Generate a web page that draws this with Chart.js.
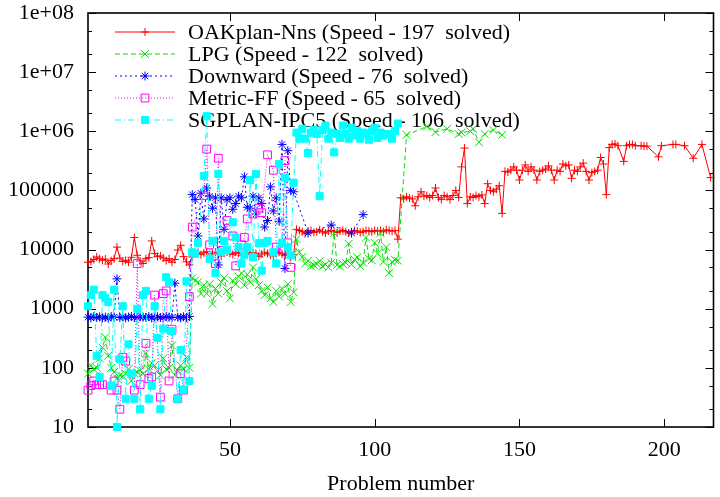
<!DOCTYPE html>
<html>
<head>
<meta charset="utf-8">
<script src="https://cdn.jsdelivr.net/npm/chart.js@4/dist/chart.umd.min.js"></script>
<style>
  html, body { margin: 0; padding: 0; background: #ffffff; }
  canvas { display: block; }
</style>
</head>
<body>
<canvas id="chart" width="720" height="497"></canvas>
<script>
// Unsolved problems are null.
const _ = null;

const seriesLabels = [
  'OAKplan-Nns (Speed - 197  solved)',
  'LPG (Speed - 122  solved)',
  'Downward (Speed - 76  solved)',
  'Metric-FF (Speed - 65  solved)',
  'SGPLAN-IPC5 (Speed - 106  solved)'
];

// Run time per problem, problems numbered from 1.
const oakplanTimes = [
  6100, 6300, 6800, 7500, 7000, 6600, 6900, 5700, 6500, 7000, 11000, 7200,
  6300, 6600, 6100, 7400, 16000, 8000, 6400, 5800, 7000, 7300, 14000, 8600,
  7600, 7800, 7200, 6500, 7000, 6100, 6800, 9800, 11800, 7600, 6200, 5500,
  7500, 8500, 9000, 8200, 8800, 9200, 8000, 8600, 9000, 8400, 7800, 8800,
  9100, 8600, 8300, 9000, 8700, 7900, 8500, 9000, 8200, 8800, 8600, 7700,
  8400, 9000, 8600, 8100, 7800, 8700, 9000, 8400, 8000, 8600, 7400, 8200,
  22000, 21000, 20000, 18500, 20500, 21000, 19500, 20000, 21500, 20000, 19000, 20500,
  21000, 20000, 19500, 20500, 21000, 20000, 19000, 20000, 21000, 20500, 19500, 20000,
  21000, 20500, 20000, 21000, 20500, 21000, 20000, 21500, 21000, 20500, 21000, 15000,
  75000, 72000, 78000, 74000, 72000, 55000, 78000, 95000, 80000, 82000, 76000, 82000,
  110000, 76000, 70000, 82000, 78000, 70000, 82000, 100000, 76000, 250000, 520000, 60000,
  78000, 76000, 82000, 78000, 84000, 60000, 130000, 100000, 95000, 105000, 120000, 41000,
  210000, 205000, 220000, 250000, 220000, 150000, 220000, 270000, 210000, 250000, 220000, 150000,
  210000, 220000, 230000, 260000, 220000, 150000, 220000, 210000, 280000, 260000, 270000, 160000,
  220000, 210000, 250000, 290000, 210000, 150000, 200000, 210000, 220000, 360000, 280000, 85000,
  530000, 600000, 610000, 570000, _, 310000, 570000, 600000, 600000, 570000, _, 570000,
  560000, 560000, _, _, _, 370000, 570000, _, _, _, 600000, 600000,
  _, _, 570000, _, _, 350000, _, _, 600000, _, _, 165000
];

const lpgTimes = [
  80, 110, 95, 100, 145, 220, 330, 160, 100, 85, 66, 75,
  72, 80, 95, 60, 80, 85, 90, 80, 175, 95, 120, 110,
  90, 75, 145, 95, 100, 240, 75, 90, 110, 95, 150, 100,
  3300, 3000, 2800, 1800, 2500, 1800, 2600, 1200, 2200, 1800, 2800, 3300,
  2000, 1500, 3000, 2600, 3500, 4000, 2500, 3800, 2800, 5000, 3200, 2500,
  2000, 1700, 2300, 1500, 1300, 2000, 1600, 2200, 1800, 2600, 1300, 1900,
  15000, 9000, 7500, 5800, 6500, 5200, 5500, 5700, 6400, 5200, 5600, 5000,
  6000, 19000, 5500, 5200, 5700, 6000, 12500, 5600, 6800, 7400, 5200, 6000,
  16000, 7000, 6600, 13000, 8500, 19000, 6200, 11000, 4000, 6200, 6700, 6500,
  _, _, 870000, _, _, _, _, _, _, 1200000, _, _,
  970000, _, _, _, 1100000, _, _, _, 900000, 950000, _, _,
  1000000, 1100000, _, 650000, _, 900000, _, _, 1050000, _, _, 870000
];

const downwardTimes = [
  720, 700, 740, 710, 730, 700, 720, 690, 740, 720, 3200, 710,
  730, 700, 720, 740, 710, 700, 730, 720, 710, 740, 700, 720,
  730, 710, 700, 740, 720, 710, 2700, 720, 700, 730, 710, 740,
  85000, 70000, 17000, 90000, 33000, 110000, 80000, 50000, 75000, 5500, 75000, 22000,
  70000, 75000, 48000, 60000, 80000, 75000, 170000, 52000, 50000, 80000, 40000, 75000,
  60000, 24000, 31000, 115000, 45000, 75000, 30000, 600000, 4800, 470000, 100000, 95000,
  _, _, _, _, 19000, _, _, _, _, _, _, _,
  26000, _, _, _, _, _, _, 19000, _, _, _, 39000
];

const metricFFTimes = [
  42, 50, 60, 52, 52, 52, _, _, 42, 60, 42, 20,
  150, 130, _, _, 42, 5800, 52, _, 260, 66, 70, 1700,
  _, 32, 1800, 2000, 60, 450, _, 30, 80, 42, _, 1600,
  24000, _, _, _, 82000, 500000, 12000, _, 5800, 350000, 13000, _,
  31000, _, 17000, 5300, _, 12000, 16000, 33000, _, 40000, _, 50000,
  42000, _, 400000, _, 220000, 11000, _, 10000, 320000, 13000, 5000, _
];

const sgplanTimes = [
  1100, 1700, 2100, 160, 70, 1700, 1500, 1300, 50, 2100, 10, 140,
  1100, 30, 250, 80, 30, 1000, 20, 1700, 2000, 30, 50, 1100,
  320, 20, 460, 3400, 2800, 420, _, 30, 200, 42, 2900, 60,
  9000, 8500, 13000, _, 175000, 1800000, 7000, 14000, 4000, 190000, 9000, 14000,
  9800, _, 29000, 16000, 11000, 5800, 8000, 11000, 150000, 7400, 190000, 12800,
  4400, 13000, 14000, _, 9000, 5800, 280000, 13000, 165000, 11000, 8000, 135000,
  950000, 750000, 1100000, 750000, 430000, 950000, 1050000, 900000, 80000, 1050000, 1250000, 750000,
  950000, 440000, 900000, 770000, 1250000, 900000, 750000, 1150000, 850000, 1000000, 750000, 950000,
  900000, 720000, 1000000, 1150000, 770000, 950000, 850000, 900000, 900000, 750000, 1000000, 1350000
];

const xTickValues = [50, 100, 150, 200];
const yTickValues = [10, 100, 1000, 10000, 100000, 1e6, 1e7, 1e8];
const yTickLabels = ['10', '100', '1000', '10000', '100000', '1e+06', '1e+07', '1e+08'];

const FONT = '"Liberation Serif", "Times New Roman", serif';

// Problem number on x, time on y; unsolved problems are left out and the line joins the solved ones.
function toPoints(times) {
  const pts = [];
  times.forEach((t, i) => { if (t !== null) pts.push({ x: i + 1, y: t }); });
  return pts;
}

function series(label, times, color, dash, style, radius, filled, order) {
  return {
    label: label,
    data: toPoints(times),
    borderColor: color,
    borderWidth: 1,
    borderDash: dash,
    pointStyle: style,
    pointRadius: radius,
    pointBorderColor: color,
    pointBorderWidth: 1,
    pointBackgroundColor: filled ? color : 'rgba(0,0,0,0)',
    tension: 0,
    fill: false,
    clip: false,
    order: order
  };
}

// Marker shapes for the key, same as the plotted points.
function drawMarker(ctx, style, r, x, y, filled) {
  ctx.beginPath();
  if (style === 'cross' || style === 'star') {
    ctx.moveTo(x - r, y); ctx.lineTo(x + r, y);
    ctx.moveTo(x, y - r); ctx.lineTo(x, y + r);
  }
  if (style === 'crossRot' || style === 'star') {
    const d = r * Math.SQRT1_2;
    ctx.moveTo(x - d, y - d); ctx.lineTo(x + d, y + d);
    ctx.moveTo(x - d, y + d); ctx.lineTo(x + d, y - d);
  }
  if (style === 'rect') {
    const s = r * Math.SQRT1_2;
    ctx.rect(x - s, y - s, 2 * s, 2 * s);
    if (filled) ctx.fill();
  }
  ctx.stroke();
}

// Border box, inward tick marks on all four sides, and the key in the top left.
const framePlugin = {
  id: 'frame',
  beforeDatasetsDraw(chart) {
    const ctx = chart.ctx;
    const a = chart.chartArea;
    const xs = chart.scales.x;
    const ys = chart.scales.y;
    ctx.save();
    ctx.strokeStyle = '#000000';
    ctx.lineWidth = 1;
    ctx.beginPath();
    yTickValues.forEach((v, i) => {
      const py = Math.round(ys.getPixelForValue(v)) + 0.5;
      ctx.moveTo(a.left, py); ctx.lineTo(a.left + 8, py);
      ctx.moveTo(a.right, py); ctx.lineTo(a.right - 8, py);
      if (i < yTickValues.length - 1) {
        [2, 5].forEach(m => {
          const my = Math.round(ys.getPixelForValue(v * m)) + 0.5;
          ctx.moveTo(a.left, my); ctx.lineTo(a.left + 4, my);
          ctx.moveTo(a.right, my); ctx.lineTo(a.right - 4, my);
        });
      }
    });
    xTickValues.forEach(v => {
      const px = Math.round(xs.getPixelForValue(v)) + 0.5;
      ctx.moveTo(px, a.bottom); ctx.lineTo(px, a.bottom - 8);
      ctx.moveTo(px, a.top); ctx.lineTo(px, a.top + 8);
    });
    ctx.stroke();
    ctx.lineWidth = 1.6;
    ctx.strokeRect(a.left, a.top, a.right - a.left, a.bottom - a.top);

    // key
    chart.data.datasets.forEach((ds, i) => {
      const y = 32 + i * 22;
      ctx.strokeStyle = ds.borderColor;
      ctx.fillStyle = ds.borderColor;
      ctx.lineWidth = 1;
      ctx.setLineDash(ds.borderDash);
      ctx.beginPath();
      ctx.moveTo(115, y); ctx.lineTo(175, y);
      ctx.stroke();
      ctx.setLineDash([]);
      drawMarker(ctx, ds.pointStyle, ds.pointRadius, 145, y, ds.pointBackgroundColor !== 'rgba(0,0,0,0)');
      ctx.fillStyle = '#000000';
      ctx.font = '22px ' + FONT;
      ctx.textAlign = 'left';
      ctx.textBaseline = 'middle';
      ctx.fillText(ds.label, 188, y + 1);
    });
    ctx.restore();
  }
};

new Chart(document.getElementById('chart'), {
  type: 'line',
  data: {
    datasets: [
      series(seriesLabels[0], oakplanTimes, '#ff0000', [], 'cross', 4, true, 5),
      series(seriesLabels[1], lpgTimes, '#00e000', [5, 3], 'crossRot', 5.5, true, 4),
      series(seriesLabels[2], downwardTimes, '#0000ff', [2, 3], 'star', 4.5, true, 3),
      series(seriesLabels[3], metricFFTimes, '#ff00ff', [1, 2], 'rect', 5.5, false, 2),
      series(seriesLabels[4], sgplanTimes, '#00ffff', [6, 3, 1, 3], 'rect', 5, true, 1)
    ]
  },
  options: {
    responsive: false,
    animation: false,
    devicePixelRatio: 1,
    events: [],
    layout: { padding: { top: 0, right: 5, bottom: 0, left: 0 } },
    plugins: { legend: { display: false }, tooltip: { enabled: false } },
    scales: {
      x: {
        type: 'linear',
        min: 1,
        max: 217,
        grid: { display: false, drawTicks: false },
        border: { display: false },
        afterBuildTicks: s => { s.ticks = xTickValues.map(v => ({ value: v })); },
        afterFit: s => { s.height = 70; },
        ticks: {
          color: '#000000',
          font: { family: FONT, size: 22 },
          padding: 10,
          maxRotation: 0,
          autoSkip: false,
          callback: v => String(v)
        },
        title: {
          display: true,
          text: 'Problem number',
          color: '#000000',
          font: { family: FONT, size: 22 },
          padding: { top: 0, bottom: 0 }
        }
      },
      y: {
        type: 'logarithmic',
        min: 10,
        max: 1e8,
        grid: { display: false, drawTicks: false },
        border: { display: false },
        afterBuildTicks: s => { s.ticks = yTickValues.map(v => ({ value: v })); },
        afterFit: s => { s.width = 88; s.paddingTop = 13; s.paddingBottom = 0; },
        ticks: {
          color: '#000000',
          font: { family: FONT, size: 22 },
          padding: 14,
          autoSkip: false,
          callback: (v, i) => yTickLabels[i]
        }
      }
    }
  },
  plugins: [framePlugin]
});
</script>
</body>
</html>
